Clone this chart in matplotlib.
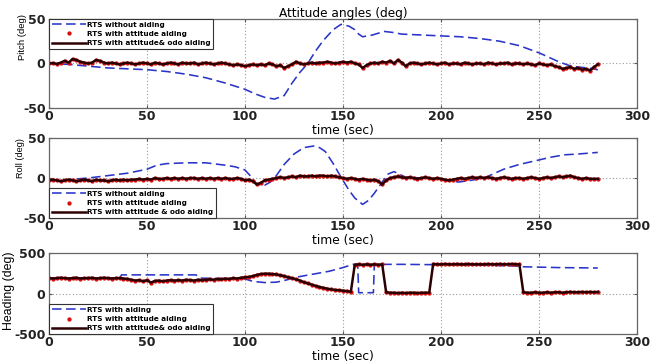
import numpy as np
import matplotlib
matplotlib.use("Agg")
import matplotlib.pyplot as plt

plt.rcParams['font.family'] = ['DejaVu Sans']

# ---------------- data ----------------
t_aided = np.arange(0, 282, 2)

pitch_aided = [0, 0.5, -0.5, 1, 3, 1, 5, 4, 2, 1,
               0, 1, 4, 3, 1, 0, 1, 0, -1, 0,
               1, 0, -1, 0, 1, 0, -1, 1, 0, -1,
               0, 1, 0, -1, 1, 0, 0, 1, -1, 0,
               1, 0, -1, 0, 1, 0, -1, -2, -1, -2,
               -3, -2, -1, -2, -1, -2, 0, -1, -3, -2,
               -5, -3, -1, 2, 0, -1, 0, 1, 0, 1,
               1, 2, 1, 0, 1, 2, 1, 2, 0, -1,
               -5, -2, 0, 1, 0, 2, 1, 3, 0, 4,
               1, -3, 0, 1, 0, -1, 0, 1, 0, -1,
               0, 1, -1, 0, 0, -1, 1, 0, -1, 0,
               0, -1, 1, 0, -1, 0, 0, 1, -1, 0,
               0, -1, 0, -1, -2, 0, -1, -2, -1, -3,
               -4, -6, -5, -4, -6, -5, -7, -6, -8, -4,
               -1]

t_pitch_noaid = [0, 10, 20, 30, 40, 50, 60, 70, 80, 90, 100, 105, 110, 115, 120, 124, 128, 132,
                 136, 140, 145, 149, 153, 156, 158, 160, 165, 171, 175, 180, 190, 200, 210, 220,
                 230, 240, 250, 255, 260, 265, 270, 275, 280]
pitch_noaid = [0, -1, -3, -5, -6, -7, -9, -12, -16, -22, -29, -34, -38, -40, -36, -22, -10, 0,
               14, 26, 38, 44, 42, 38, 33, 30, 32, 36, 35, 33, 32, 31, 30, 28,
               25, 20, 12, 7, 2, -2, -4, -5, -7]

roll_aided = [-3, -2, -3, -4, -3, -2, -3, -4, -3, -2,
              -3, -4, -2, -3, -3, -4, -3, -2, -3, -2,
              -3, -2, -2, -1, -2, -1, -2, 0, -1, -1,
              0, -1, 0, -1, 0, -1, 0, 0, -1, 0,
              -1, 0, -1, 0, -1, 0, -1, -1, 0, -1,
              -3, -2, -4, -8, -6, -3, -2, -1, 0, 1,
              0, 1, 2, 1, 3, 2, 2, 3, 2, 3,
              3, 2, 3, 2, 1, 0, -1, 0, -1, -2,
              -1, -2, -3, -2, -4, -8, -3, 0, 1, 2,
              1, 0, 1, 0, -1, 0, 1, 0, -1, 0,
              -1, -2, -3, -2, -1, 0, -1, 0, 1, 0,
              1, 0, 1, 0, -1, 0, 1, 0, -1, 0,
              0, -1, 0, 1, 0, -1, 0, 1, 0, 1,
              2, 1, 2, 3, 1, 0, -1, 0, -1, -1,
              -1]

t_roll_noaid = [0, 10, 20, 30, 40, 50, 55, 60, 70, 80, 90, 95, 100, 103, 106, 110, 113, 116, 120,
                125, 130, 135, 138, 141, 145, 149, 153, 156, 160, 163, 166, 170, 173, 176, 182,
                190, 200, 209, 215, 222, 232, 240, 249, 256, 263, 270, 280]
roll_noaid = [-3, -2, 0, 3, 6, 11, 16, 18, 19, 19, 16, 14, 10, 2, -8, -9, -5, 3, 17,
              30, 38, 40, 38, 33, 18, 1, -15, -25, -33, -28, -19, -5, 5, 8, 1,
              0, -2, -5, -3, 0, 11, 17, 22, 26, 29, 30, 32]

heading_aided = [190, 185, 190, 195, 190, 185, 190, 195, 185, 190,
                 190, 195, 185, 190, 195, 190, 185, 190, 190, 185,
                 180, 170, 160, 165, 150, 165, 135, 155, 160, 150,
                 160, 165, 160, 165, 160, 170, 165, 160, 170, 165,
                 170, 175, 170, 180, 175, 185, 180, 190, 185, 195,
                 200, 205, 215, 230, 240, 245, 245, 240, 235, 225,
                 215, 200, 190, 175, 160, 140, 125, 110, 95, 80,
                 70, 60, 50, 45, 40, 35, 30, 20, 355, 360,
                 355, 360, 355, 360, 355, 360, 15, 10, 10, 5,
                 10, 5, 10, 10, 5, 10, 10, 10, 365, 360,
                 360, 365, 360, 360, 365, 360, 360, 365, 360, 360,
                 360, 360, 365, 360, 360, 365, 360, 360, 365, 360,
                 360, 15, 10, 10, 15, 10, 10, 15, 10, 15,
                 15, 10, 15, 20, 15, 15, 20, 15, 20, 15,
                 20]

t_heading_noaid = [0, 36, 37, 75, 77, 100, 104, 110, 116, 120, 127, 135, 143, 150, 155, 157.5,
                   158, 165.5, 166, 180, 200, 220, 238, 242, 260, 280]
heading_noaid = [190, 190, 230, 230, 190, 180, 150, 135, 140, 160, 205, 240, 275, 320, 360, 360,
                 10, 10, 360, 360, 355, 350, 340, 330, 320, 315]

xticks = [0, 50, 100, 150, 200, 250, 300]
xtick_labels = ["0", "50", "100", "150", "200", "250", "300"]

panels = [
    dict(ylabel="Pitch (deg)", tn=t_pitch_noaid, yn=pitch_noaid, ya=pitch_aided,
         ylim=(-50, 50), yt=[-50, 0, 50], ytl=["-50", "0", "50"],
         labels=["RTS without aiding", "RTS with attitude aiding", "RTS with attitude& odo aiding"],
         loc="upper left", box=(0.9477, 0.7025), ylsize=6.8, ylpos=(-0.038, 0.80)),
    dict(ylabel="Roll (deg)", tn=t_roll_noaid, yn=roll_noaid, ya=roll_aided,
         ylim=(-50, 50), yt=[-50, 0, 50], ytl=["-50", "0", "50"],
         labels=["RTS without aiding", "RTS with attitude aiding", "RTS with attitude & odo aiding"],
         loc="lower left", box=(0.6198, 0.3994), ylsize=6.6, ylpos=(-0.041, 0.75)),
    dict(ylabel="Heading (deg)", tn=t_heading_noaid, yn=heading_noaid, ya=heading_aided,
         ylim=(-500, 500), yt=[-500, 0, 500], ytl=["-500", "0", "500"],
         labels=["RTS with aiding", "RTS with attitude aiding", "RTS with attitude& odo aiding"],
         loc="lower left", box=(0.3030, 0.0799), ylsize=8.9, ylpos=(-0.057, 0.53)),
]

fig = plt.figure(figsize=(6.5, 3.63), dpi=100)
left, right = 0.0754, 0.980

for p in panels:
    top, bot = p['box']
    ax = fig.add_axes([left, bot, right - left, top - bot])
    l1, = ax.plot(p['tn'], p['yn'], color='#2a35c8', lw=1.15, dashes=(6, 2.8), label=p['labels'][0])
    l2, = ax.plot(t_aided, p['ya'], linestyle='none', marker='o', markeredgewidth=0,
                  color='#d81010', ms=3.1, label=p['labels'][1])
    l3, = ax.plot(t_aided, p['ya'], color='#2a0000', lw=1.8, label=p['labels'][2])
    ax.set_xlim(0, 300)
    ax.set_ylim(*p['ylim'])
    ax.set_xticks(xticks)
    ax.set_xticklabels(xtick_labels, fontweight='bold', fontsize=9, color='#222222')
    ax.set_yticks(p['yt'])
    ax.set_yticklabels(p['ytl'], fontweight='bold', fontsize=9, color='#222222')
    ax.grid(True, color='#9a9a9a', linestyle=(0, (1, 2)), linewidth=0.8)
    ax.tick_params(direction='in', length=2.5, top=True, right=True, color='#555555')
    ax.tick_params(axis='x', pad=1.5)
    ax.tick_params(axis='y', pad=2.5)
    for s in ax.spines.values():
        s.set_color('#666666')
        s.set_linewidth(0.9)
    ax.set_ylabel(p['ylabel'], fontsize=p['ylsize'], family=['Liberation Sans', 'DejaVu Sans'])
    ax.yaxis.set_label_coords(*p['ylpos'])
    ax.set_xlabel("time (sec)", fontsize=8.8, labelpad=0.5)
    leg = ax.legend(handles=[l1, l2, l3], loc=p['loc'], prop={'size': 5.2, 'weight': 'bold'},
                    handlelength=4.8, borderpad=0.35, labelspacing=0.45, handletextpad=0.1,
                    borderaxespad=0.0, fancybox=False, framealpha=1, edgecolor='#333333')
    leg.get_frame().set_linewidth(0.8)
    if p['ylabel'].startswith("Pitch"):
        ax.set_title("Attitude angles (deg)", fontsize=8.7, pad=1.5)

fig.savefig("out.png", dpi=100)
